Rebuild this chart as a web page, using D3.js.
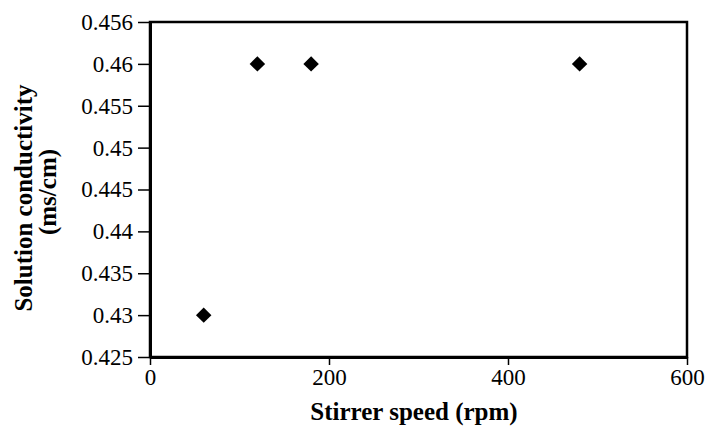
<!DOCTYPE html>
<html>
<head>
<meta charset="utf-8">
<script src="https://cdn.jsdelivr.net/npm/d3@7"></script>
<style>
  body { margin: 0; background: #fff; }
</style>
</head>
<body>
<script>
// data
const speeds = [60, 120, 180, 480]
const conductivity = [0.43, 0.46, 0.46, 0.46]

const yTicks = [0.425, 0.43, 0.435, 0.44, 0.445, 0.45, 0.455, 0.46, 0.465]
const yTickLabels = ["0.425", "0.43", "0.435", "0.44", "0.445", "0.45", "0.455", "0.46", "0.456"]
const xTicks = [0, 200, 400, 600]

const font = "Liberation Serif"

const w = 710
const h = 436
const padL = 150, padR = 687, padT = 22, padB = 357

const svg = d3.select("body")
  .append("svg")
  .attr("width", w)
  .attr("height", h)

const xScale = d3.scaleLinear()
  .domain([0, 600])
  .range([padL, padR])

const yScale = d3.scaleLinear()
  .domain([0.425, 0.465])
  .range([padB, padT])

// frame
svg.append("rect")
  .attr("x", padL)
  .attr("y", padT)
  .attr("width", padR - padL)
  .attr("height", padB - padT)
  .attr("fill", "none")
  .attr("stroke", "#000")
  .attr("stroke-width", 2.5)

const xAxis = d3.axisBottom(xScale)
  .tickValues(xTicks)
  .tickFormat(d3.format("d"))
  .tickSizeInner(8)
  .tickSizeOuter(0)
  .tickPadding(4)

const gx = svg.append("g")
  .attr("transform", "translate(0," + padB + ")")
  .call(xAxis)
gx.attr("font-family", font).attr("font-size", 23)
gx.select(".domain").attr("stroke-width", 3)
gx.selectAll(".tick line").attr("stroke-width", 1.5)

const yAxis = d3.axisLeft(yScale)
  .tickValues(yTicks)
  .tickFormat((d, i) => yTickLabels[i])
  .tickSizeInner(12)
  .tickSizeOuter(0)
  .tickPadding(5)

const gy = svg.append("g")
  .attr("transform", "translate(" + padL + ",0)")
  .call(yAxis)
gy.attr("font-family", font).attr("font-size", 23)
gy.select(".domain").attr("stroke-width", 3)
gy.selectAll(".tick line").attr("stroke-width", 1.5)

// points (diamonds)
svg.selectAll("path.pt")
  .data(speeds.map((s, i) => [s, conductivity[i]]))
  .enter()
  .append("path")
  .attr("class", "pt")
  .attr("d", d3.symbol().type(d3.symbolSquare).size(120))
  .attr("transform", d => "translate(" + xScale(d[0]) + "," + yScale(d[1]) + ") rotate(45)")
  .attr("fill", "#000")

// axis titles
svg.append("text")
  .attr("x", 414)
  .attr("y", 420)
  .attr("text-anchor", "middle")
  .attr("font-family", font)
  .attr("font-size", 25)
  .attr("font-weight", "bold")
  .text("Stirrer speed (rpm)")

const yTitle = svg.append("text")
  .attr("transform", "translate(32,198) rotate(-90)")
  .attr("text-anchor", "middle")
  .attr("font-family", font)
  .attr("font-size", 25)
  .attr("font-weight", "bold")
yTitle.append("tspan").attr("x", 0).attr("dy", 0).text("Solution conductivity")
yTitle.append("tspan").attr("x", 6).attr("dy", 24).text("(ms/cm)")
</script>
</body>
</html>
